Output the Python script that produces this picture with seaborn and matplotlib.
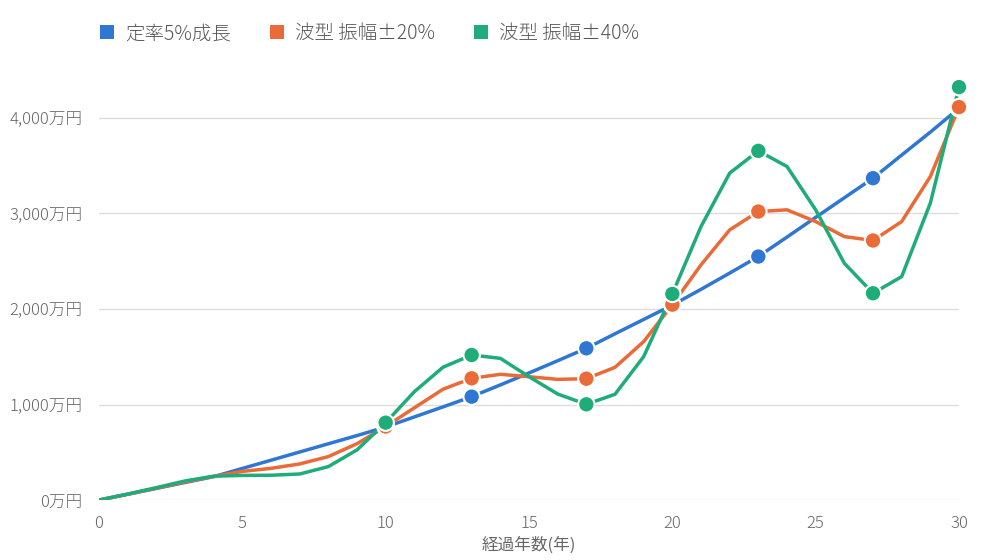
import pandas as pd
import matplotlib.pyplot as plt
import seaborn as sns
from matplotlib.patches import Patch
from matplotlib.ticker import FuncFormatter

sns.set_style("white")
plt.rcParams['font.family'] = ['Noto Sans CJK JP', 'DejaVu Sans']
plt.rcParams['font.weight'] = 'light'

# データ (万円)
years = list(range(31))
teiritsu = [0, 61, 122, 184, 245, 331, 417, 503, 589, 675, 765,
            870, 975, 1082, 1205, 1330, 1458, 1588, 1740, 1890, 2040,
            2205, 2375, 2548, 2752, 2958, 3163, 3368, 3610, 3850, 4100]
nami20 = [0, 61, 125, 190, 248, 300, 332, 378, 455, 590, 770,
          965, 1160, 1274, 1316, 1291, 1263, 1270, 1389, 1658, 2045,
          2461, 2827, 3019, 3037, 2914, 2757, 2716, 2914, 3385, 4112]
nami40 = [0, 63, 130, 200, 250, 258, 260, 273, 350, 525, 810,
          1134, 1390, 1518, 1483, 1291, 1110, 1002, 1107, 1501, 2157,
          2862, 3421, 3654, 3490, 3037, 2478, 2164, 2338, 3107, 4321]
marker_years = [10, 13, 17, 20, 23, 27, 30]

labels = ['定率5%成長', '波型 振幅±20%', '波型 振幅±40%']
colors = ['#2F77D3', '#EA6B37', '#1EAD78']

df = pd.DataFrame({
    '年': years * 3,
    '金額': teiritsu + nami20 + nami40,
    '系列': [labels[0]] * 31 + [labels[1]] * 31 + [labels[2]] * 31,
})
df_pts = df[df['年'].isin(marker_years)]
palette = dict(zip(labels, colors))

fig = plt.figure(figsize=(10, 5.6), dpi=100)
ax = fig.add_axes([0.099, 0.107, 0.86, 0.768])

sns.lineplot(data=df, x='年', y='金額', hue='系列', palette=palette,
             linewidth=2.5, legend=False, ax=ax, zorder=3)
sns.scatterplot(data=df_pts, x='年', y='金額', hue='系列', palette=palette,
                s=140, edgecolor='white', linewidth=1.5, legend=False, ax=ax,
                zorder=4, clip_on=False)

ax.set_xlim(0, 30)
ax.set_ylim(0, 4500)
ax.set_xticks(range(0, 31, 5))
ax.set_yticks(range(0, 4001, 1000))
ax.yaxis.set_major_formatter(FuncFormatter(lambda v, p: f'{int(v):,}万円'))
ax.grid(axis='y', color='#DDDDDD', linewidth=1)
ax.grid(axis='x', visible=False)
for s in ax.spines.values():
    s.set_visible(False)
ax.tick_params(axis='both', length=0, labelsize=12, labelcolor='#666666')
ax.tick_params(axis='y', pad=12)
ax.tick_params(axis='x', pad=11)
ax.set_xlabel('経過年数(年)', fontsize=12, color='#666666', labelpad=3)
ax.set_ylabel('')

handles = [Patch(facecolor=c, edgecolor='none') for c in colors]
fig.legend(handles, labels, loc='center left', bbox_to_anchor=(0.082, 0.94),
           ncol=3, frameon=False, fontsize=14, handlelength=0.75, handleheight=0.75,
           handletextpad=0.55, columnspacing=2.0, labelcolor='#555555')

fig.savefig('out.png', dpi=100)
